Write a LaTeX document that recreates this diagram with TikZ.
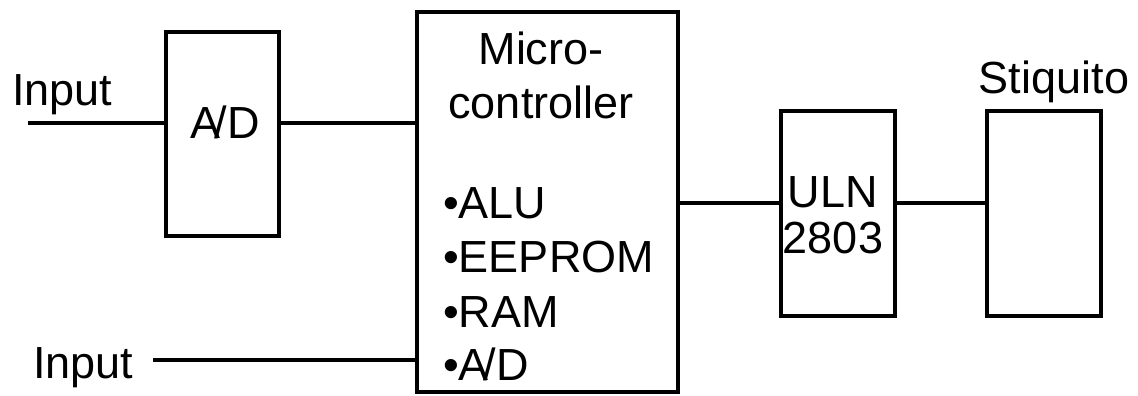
\documentclass[tikz,border=0pt]{standalone}
\usepackage{fontspec}
\setmainfont{Liberation Sans}
\newcommand{\AD}{A\kern-0.12em/D}
\begin{document}
\begin{tikzpicture}[x=1pt,y=-1pt,
  blk/.style={draw,line width=4pt,inner sep=0pt,outer sep=0pt},
  wire/.style={line width=4pt},
  lbl/.style={inner sep=0pt,anchor=base west,font=\fontsize{45}{54}\selectfont}]
\useasboundingbox (0,0) rectangle (1138,396);
% blocks
\node[blk,minimum width=113pt,minimum height=204pt] (ad) at (222.5,134) {};
\node[blk,minimum width=261pt,minimum height=380pt] (mc) at (547.5,202) {};
\node[blk,minimum width=114pt,minimum height=205pt] (uln) at (838,213.5) {};
\node[blk,minimum width=114pt,minimum height=205pt] (st) at (1044,213.5) {};
% labels
\node[lbl] (in1) at (12,105) {Input};
\node[lbl] (in2) at (33,378) {Input};
\node[lbl] (adt) at (190,138) {\AD};
\node[lbl,anchor=base] (m1) at (541,65) {Micro-};
\node[lbl,anchor=base] (m2) at (541,118) {controller};
\node[lbl] (b1) at (443,218) {•ALU};
\node[lbl] (b2) at (443,272) {•EEPROM};
\node[lbl] (b3) at (443,327) {•RAM};
\node[lbl] (b4) at (443,380) {•\AD};
\node[lbl,anchor=base] (u1) at (833,207) {ULN};
\node[lbl,anchor=base] (u2) at (833,253) {2803};
\node[lbl,anchor=base] (stl) at (1054,93) {Stiquito};
% free ends
\coordinate (s1) at (28,123);
\coordinate (s2) at (153,360);
% wires
\draw[wire] (s1) -- (s1 -| ad.west);
\draw[wire] (ad.east |- s1) -- (mc.west |- s1);
\draw[wire] (s2) -- (mc.west |- s2);
\draw[wire] (mc.east |- 0,203) -- (uln.west |- 0,203);
\draw[wire] (uln.east |- 0,203) -- (st.west |- 0,203);
\end{tikzpicture}
\end{document}
